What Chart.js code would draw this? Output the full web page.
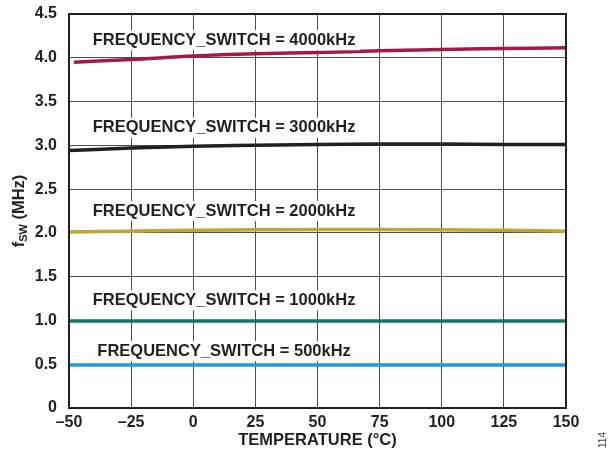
<!DOCTYPE html>
<html>
<head>
<meta charset="utf-8">
<script src="https://cdn.jsdelivr.net/npm/chart.js@4/dist/chart.umd.min.js"></script>
<style>
    html, body { margin: 0; padding: 0; background: #fff; }
    #wrap { width: 614px; height: 461px; position: relative; }
</style>
</head>
<body>
<div id="wrap"><canvas id="fswChart"></canvas></div>
<script>
// Temperature points (°C)
const temps = [-50, -25, 0, 25, 50, 75, 100, 125, 150];
const temps4000 = [-48, -25, 0, 25, 50, 75, 100, 125, 150];

// Switching frequency (MHz) per FREQUENCY_SWITCH setting
const f4000 = [3.95, 3.98, 4.02, 4.045, 4.06, 4.08, 4.095, 4.105, 4.115];
const f3000 = [2.94, 2.97, 2.99, 3.00, 3.01, 3.015, 3.015, 3.01, 3.01];
const f2000 = [2.01, 2.02, 2.03, 2.035, 2.04, 2.04, 2.035, 2.03, 2.02];
const f1000 = [0.995, 0.995, 0.995, 0.995, 0.995, 0.995, 0.995, 0.995, 0.995];
const f500 = [0.49, 0.49, 0.49, 0.49, 0.49, 0.49, 0.49, 0.49, 0.49];

const seriesLabels = ['FREQUENCY_SWITCH = 4000kHz', 'FREQUENCY_SWITCH = 3000kHz',
    'FREQUENCY_SWITCH = 2000kHz', 'FREQUENCY_SWITCH = 1000kHz', 'FREQUENCY_SWITCH = 500kHz'];

// Where each curve label sits, in data units
const labelTemps = [12.4, 12.4, 12.4, 12.4, 12.4];
const labelFreqs = [4.20, 3.20, 2.25, 1.23, 0.65];

const colors = ['#a5194a', '#231f20', '#c9a032', '#10766a', '#1b9bd7'];

function toPoints(xs, ys) {
    return xs.map((x, i) => ({ x: x, y: ys[i] }));
}

const textColor = '#231f20';
const boldFont = { family: 'Liberation Sans, Arial, sans-serif', size: 16, weight: 'bold' };

// Box border, curve labels with white backing, y title with subscript, figure number
const decorations = {
    id: 'decorations',
    afterDatasetsDraw(chart) {
        const ctx = chart.ctx;
        const area = chart.chartArea;
        const xs = chart.scales.x;
        const ys = chart.scales.y;

        ctx.save();
        ctx.font = 'bold 16.5px "Liberation Sans", Arial, sans-serif';
        ctx.textAlign = 'center';
        ctx.textBaseline = 'middle';
        seriesLabels.forEach((txt, i) => {
            const px = xs.getPixelForValue(labelTemps[i]);
            const py = ys.getPixelForValue(labelFreqs[i]);
            const w = ctx.measureText(txt).width;
            ctx.fillStyle = '#fff';
            ctx.fillRect(px - w / 2 - 4, py - 10, w + 8, 20);
            ctx.fillStyle = textColor;
            ctx.fillText(txt, px, py);
        });

        // plot frame
        ctx.strokeStyle = '#231f20';
        ctx.lineWidth = 2;
        ctx.strokeRect(area.left, area.top, area.right - area.left, area.bottom - area.top);

        // y title: f_SW (MHz)
        ctx.translate(24, (area.top + area.bottom) / 2);
        ctx.rotate(-Math.PI / 2);
        ctx.textAlign = 'left';
        ctx.textBaseline = 'alphabetic';
        const big = 'bold 16.5px "Liberation Sans", Arial, sans-serif';
        const small = 'bold 11px "Liberation Sans", Arial, sans-serif';
        ctx.font = big;
        const wf = ctx.measureText('f').width;
        ctx.font = small;
        const ws = ctx.measureText('SW').width;
        ctx.font = big;
        const wr = ctx.measureText(' (MHz)').width;
        let x0 = -(wf + ws + wr) / 2;
        ctx.fillStyle = textColor;
        ctx.fillText('f', x0, 0);
        ctx.font = small;
        ctx.fillText('SW', x0 + wf, 3);
        ctx.font = big;
        ctx.fillText(' (MHz)', x0 + wf + ws, 0);
        ctx.restore();

        // figure number
        ctx.save();
        ctx.translate(603, 440);
        ctx.rotate(-Math.PI / 2);
        ctx.font = '10px "Liberation Sans", Arial, sans-serif';
        ctx.fillStyle = '#444';
        ctx.textAlign = 'center';
        ctx.textBaseline = 'middle';
        ctx.fillText('114', 0, 0);
        ctx.restore();
    }
};

const ctx = document.getElementById('fswChart');
new Chart(ctx, {
    type: 'line',
    data: {
        datasets: [
            { label: seriesLabels[0], data: toPoints(temps4000, f4000), borderColor: colors[0] },
            { label: seriesLabels[1], data: toPoints(temps, f3000), borderColor: colors[1] },
            { label: seriesLabels[2], data: toPoints(temps, f2000), borderColor: colors[2] },
            { label: seriesLabels[3], data: toPoints(temps, f1000), borderColor: colors[3] },
            { label: seriesLabels[4], data: toPoints(temps, f500), borderColor: colors[4] }
        ]
    },
    options: {
        responsive: true,
        maintainAspectRatio: false,
        animation: false,
        layout: { padding: { left: 0, right: 48, top: 14, bottom: 0 } },
        elements: {
            line: { borderWidth: 3.5, cubicInterpolationMode: 'monotone', fill: false },
            point: { radius: 0 }
        },
        plugins: {
            legend: { display: false },
            tooltip: { enabled: false }
        },
        scales: {
            x: {
                type: 'linear',
                min: -50,
                max: 150,
                afterFit: function(scale) {
                    scale.height = 53;
                    scale.paddingLeft = 0;
                    scale.paddingRight = 0;
                },
                grid: { color: '#4d4d4d', lineWidth: 1, drawTicks: false },
                border: { display: false },
                ticks: {
                    stepSize: 25,
                    padding: 5,
                    color: textColor,
                    font: boldFont,
                    callback: function(v) { return v < 0 ? '\u2013' + Math.abs(v) : String(v); }
                },
                title: {
                    display: true,
                    text: 'TEMPERATURE (°C)',
                    color: textColor,
                    font: { family: 'Liberation Sans, Arial, sans-serif', size: 16.5, weight: 'bold' },
                    padding: { top: 0, bottom: 11 }
                }
            },
            y: {
                min: 0,
                max: 4.5,
                afterFit: function(scale) {
                    scale.width = 69;
                    scale.paddingTop = 0;
                    scale.paddingBottom = 0;
                },
                grid: { color: '#4d4d4d', lineWidth: 1, drawTicks: false },
                border: { display: false },
                ticks: {
                    stepSize: 0.5,
                    padding: 12,
                    color: textColor,
                    font: boldFont,
                    callback: function(v) { return v === 0 ? '0' : v.toFixed(1); }
                }
            }
        }
    },
    plugins: [decorations]
});
</script>
</body>
</html>
